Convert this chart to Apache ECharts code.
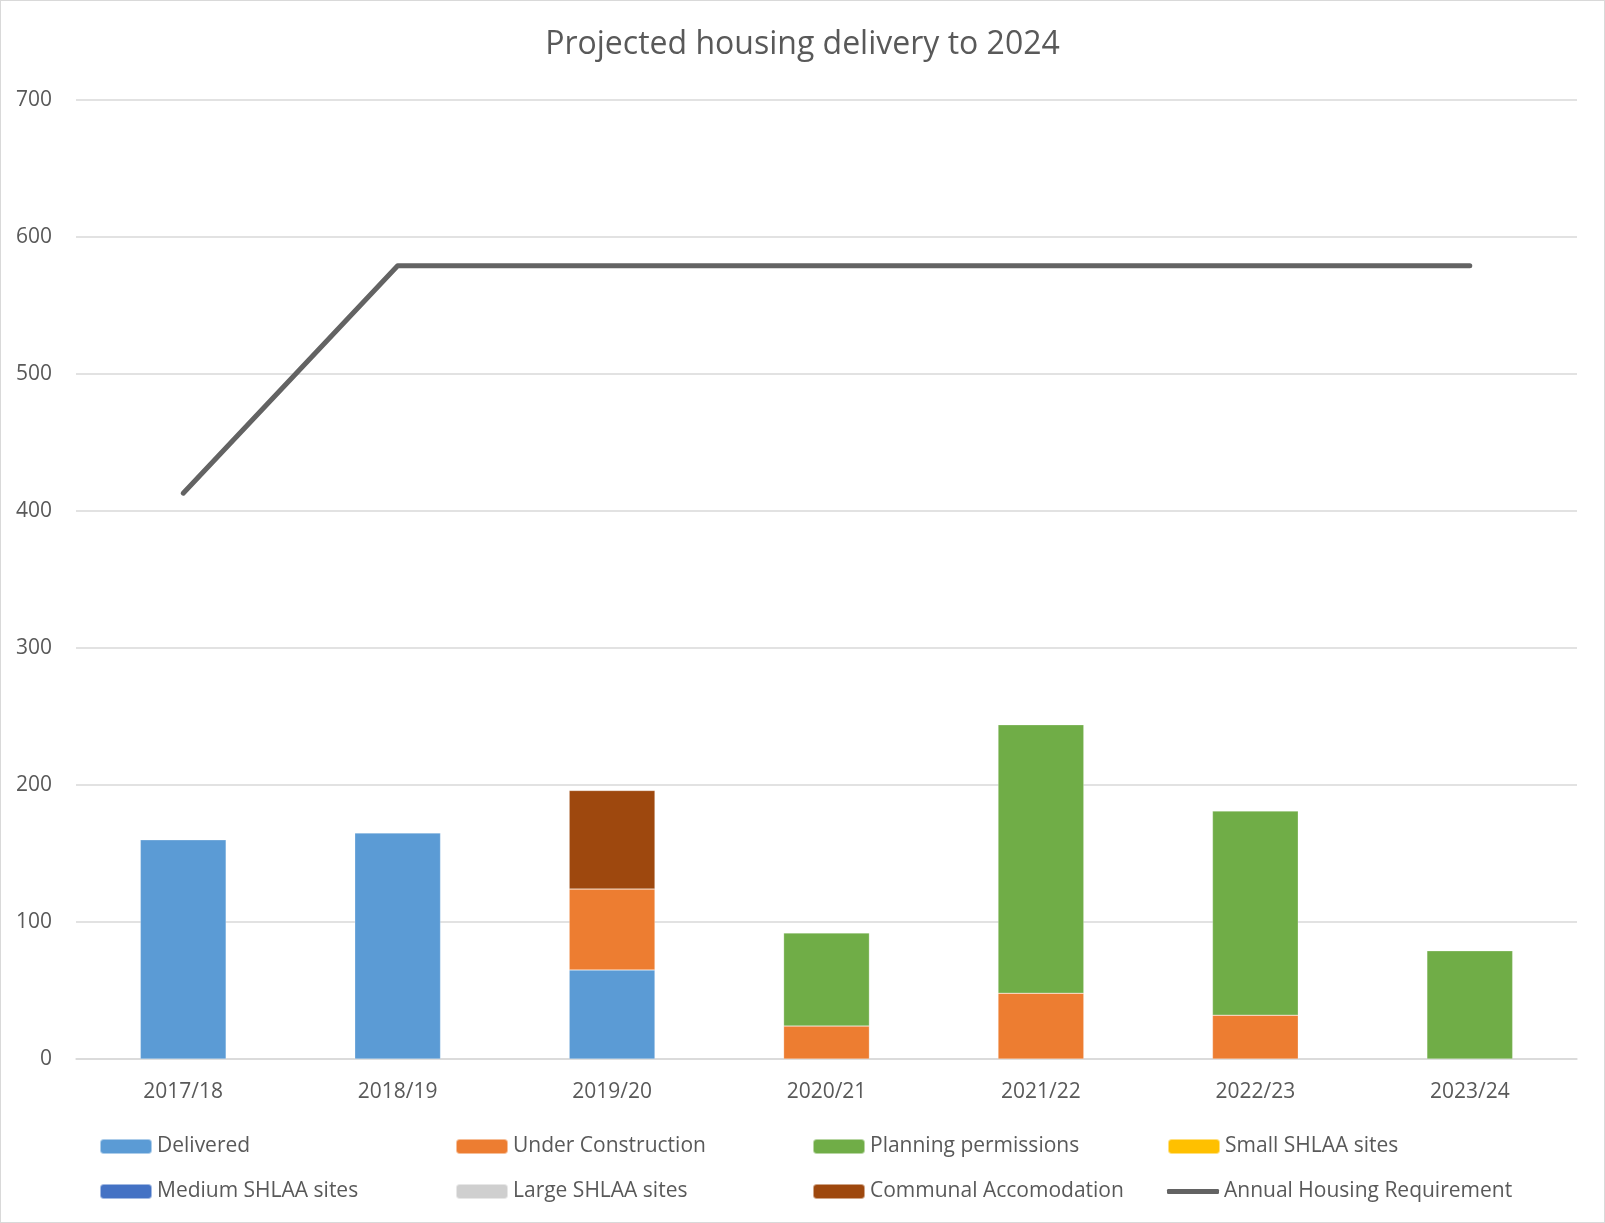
<!DOCTYPE html>
<html>
<head>
<meta charset="utf-8">
<script src="https://cdn.jsdelivr.net/npm/echarts@6/dist/echarts.min.js"></script>
<style>
  html, body { margin: 0; padding: 0; background: #fff; }
  #chart { width: 1605px; height: 1223px; box-sizing: border-box; border: 1px solid #d9d9d9; }
</style>
</head>
<body>
<div id="chart"></div>
<script>
var categories = ['2017/18', '2018/19', '2019/20', '2020/21', '2021/22', '2022/23', '2023/24']

// values
var delivered = [160, 165, 65, 0, 0, 0, 0]
var underConstruction = [0, 0, 59, 24, 48, 32, 0]
var planningPermissions = [0, 0, 0, 68, 196, 149, 79]
var smallShlaa = [0, 0, 0, 0, 0, 0, 0]
var mediumShlaa = [0, 0, 0, 0, 0, 0, 0]
var largeShlaa = [0, 0, 0, 0, 0, 0, 0]
var communal = [0, 0, 72, 0, 0, 0, 0]
var requirement = [413, 579, 579, 579, 579, 579, 579]

var yTicks = [0, 100, 200, 300, 400, 500, 600, 700]

var myChart = echarts.init(document.getElementById('chart'))

var font = 'Open Sans'
var textGrey = '#595959'
var gridGrey = '#d9d9d9'

// bar series, stacked
var barDefs = [
  { name: 'Delivered', data: delivered, color: '#5b9bd5' },
  { name: 'Under Construction', data: underConstruction, color: '#ed7d31' },
  { name: 'Planning permissions', data: planningPermissions, color: '#70ad47' },
  { name: 'Small SHLAA sites', data: smallShlaa, color: '#ffc000' },
  { name: 'Medium SHLAA sites', data: mediumShlaa, color: '#4472c4' },
  { name: 'Large SHLAA sites', data: largeShlaa, color: '#cfcfcf' },
  { name: 'Communal Accomodation', data: communal, color: '#9e480e' },
]

var series = barDefs.map(function (d) {
  return {
    name: d.name,
    type: 'bar',
    stack: 'total',
    barWidth: '40%',
    itemStyle: { color: d.color, borderColor: 'rgba(255,255,255,0.5)', borderWidth: 0.5 },
    data: d.data.map(function (v) { return v === 0 ? null : v }),
  }
})

series.push({
  name: 'Annual Housing Requirement',
  type: 'line',
  symbol: 'none',
  lineStyle: { color: '#636363', width: 5, cap: 'round', join: 'round' },
  itemStyle: { color: '#636363' },
  data: requirement,
})

// legend laid out as a 4 x 2 grid, one legend per cell
var legendNames = [
  'Delivered', 'Under Construction', 'Planning permissions', 'Small SHLAA sites',
  'Medium SHLAA sites', 'Large SHLAA sites', 'Communal Accomodation', 'Annual Housing Requirement',
]
var colX = [98, 454, 811, 1166]
var rowY = [1135, 1180]
var legends = legendNames.map(function (n, i) {
  var isLine = n === 'Annual Housing Requirement'
  return {
    data: [isLine ? { name: n, icon: 'roundRect' } : n],
    left: colX[i % 4],
    top: rowY[Math.floor(i / 4)],
    padding: 0,
    itemWidth: 52,
    itemHeight: isLine ? 5 : 15,
    itemGap: 0,
    selectedMode: false,
    textStyle: { fontFamily: font, fontSize: 21, color: textGrey },
  }
})

var option = {
  backgroundColor: '#fff',
  title: {
    text: 'Projected housing delivery to 2024',
    left: 'center',
    top: 28,
    padding: 0,
    textStyle: { fontFamily: font, fontSize: 32, fontWeight: 'normal', color: textGrey },
  },
  legend: legends,
  grid: { left: 75, right: 27, top: 99, bottom: 163 },
  xAxis: {
    type: 'category',
    data: categories,
    axisTick: { show: false },
    axisLine: { lineStyle: { color: gridGrey, width: 1.5 } },
    axisLabel: { color: textGrey, fontFamily: font, fontSize: 21, margin: 23 },
  },
  yAxis: {
    type: 'value',
    min: yTicks[0],
    max: yTicks[yTicks.length - 1],
    interval: 100,
    axisLine: { show: false },
    axisTick: { show: false },
    axisLabel: { color: textGrey, fontFamily: font, fontSize: 21, margin: 24 },
    splitLine: { lineStyle: { color: gridGrey, width: 1.5 } },
  },
  series: series,
}

myChart.setOption(option)
</script>
</body>
</html>
